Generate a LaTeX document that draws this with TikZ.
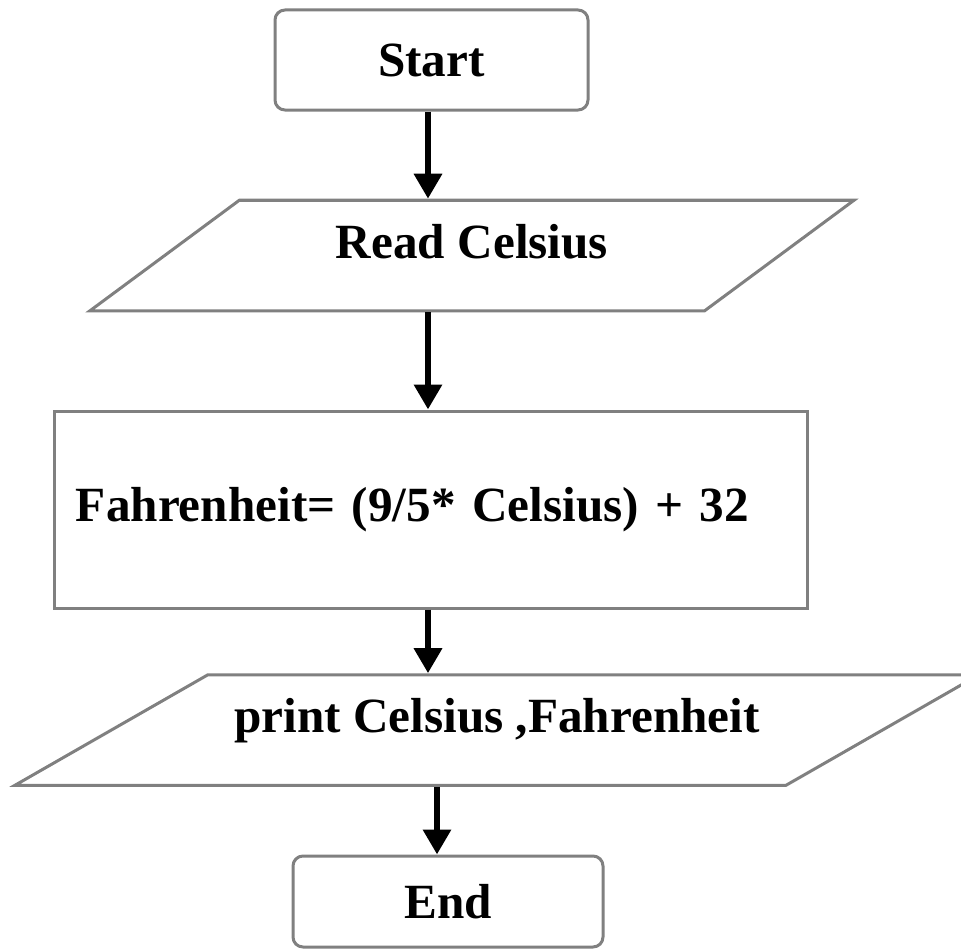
\documentclass[tikz,border=0pt]{standalone}
\usepackage{fontspec}
\setmainfont{Liberation Serif}
\usetikzlibrary{shapes.geometric,arrows.meta}

\begin{document}
\begin{tikzpicture}[x=0.2mm,y=-0.2mm,
  >={Triangle[length=5mm,width=5.4mm]},
  font=\fontsize{28}{34}\selectfont\bfseries,
  every node/.style={draw=gray,line width=0.6mm,inner sep=1pt},
  term/.style={rectangle,rounded corners=2mm,minimum width=62.6mm,minimum height=20mm},
  io/.style={trapezium,trapezium stretches body,text height=7mm,text depth=5.9mm,inner ysep=4.6mm},
  proc/.style={rectangle,minimum height=39.4mm,text width=142mm,align=left,inner xsep=4.2mm},
  flow/.style={->,line width=1.3mm,black}]
\useasboundingbox (0,0) rectangle (961,951);
\node[term] (start) at (431.5,60) {Start};
\node[io,trapezium left angle=36.5,trapezium right angle=143.5,minimum width=152.8mm] (read) at (472,255.5) {Read Celsius};
\node[proc] (calc) at (431,509.5) {Fahrenheit= (9/5* Celsius) + 32};
\node[io,trapezium left angle=29.8,trapezium right angle=150.2,minimum width=192.8mm] (print) at (497,730) {print Celsius ,Fahrenheit};
\node[term,minimum width=62mm,minimum height=18.2mm] (end) at (448,901.5) {End};
\draw[flow] (428,0 |- start.south) -- (428,0 |- read.north);
\draw[flow] (428,0 |- read.south) -- (428,0 |- calc.north);
\draw[flow] (428,0 |- calc.south) -- (428,0 |- print.north);
\draw[flow] (437,0 |- print.south) -- (437,0 |- end.north);
\end{tikzpicture}
\end{document}
